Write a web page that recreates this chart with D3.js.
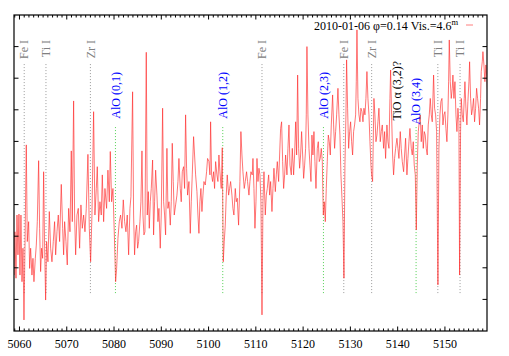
<!DOCTYPE html>
<html><head><meta charset="utf-8">
<script src="https://cdn.jsdelivr.net/npm/d3@7"></script>
<style>body{margin:0;background:#fff}svg{display:block}</style>
</head><body>
<svg id="c" width="509" height="356"></svg>
<script>
// ---- data ----
const wavelength = [
5058.41,5058.62,5058.83,5059.04,5059.26,5059.47,5059.68,5059.89,5060.10,5060.31,5060.53,5060.74,5060.95,5061.16,5061.44,5061.65,5061.94,5062.15,5062.36,5062.64,5062.85,5063.06,5063.35,5063.56,5063.77,5064.05,5064.26,5064.47,5064.68,5064.90,5065.11,5065.32,5065.53,5065.74,5066.02,5066.31,5066.59,5066.87,5067.15,5067.43,5067.65,5067.93,5068.21,5068.49,5068.84,5069.13,5069.34,5069.55,5069.83,5070.11,5070.40,5070.68,5070.96,5071.17,5071.45,5071.66,5071.88,5072.16,5072.44,5072.72,5073.00,5073.29,5073.57,5073.85,5074.13,5074.48,5074.77,5075.05,5075.33,5075.68,5075.96,5076.25,5076.46,5076.74,5077.02,5077.30,5077.52,5077.80,5078.08,5078.43,5078.71,5079.00,5079.21,5079.49,5079.77,5080.05,5080.34,5080.55,5080.83,5081.11,5081.39,5081.68,5081.96,5082.24,5082.52,5082.80,5083.09,5083.37,5083.58,5083.93,
5084.14,5084.35,5084.57,5084.78,5084.99,5085.20,5085.48,5085.69,5085.91,5086.12,5086.33,5086.54,5086.82,5087.03,5087.25,5087.46,5087.67,5087.88,5088.16,5088.37,5088.58,5088.80,5089.08,5089.29,5089.50,5089.78,5089.99,5090.28,5090.49,5090.70,5090.91,5091.19,5091.40,5091.62,5091.90,5092.11,5092.32,5092.53,5092.74,5093.03,5093.31,5093.52,5093.73,5094.01,5094.22,5094.44,5094.72,5094.93,5095.14,5095.35,5095.56,5095.85,5096.13,5096.34,5096.55,5096.83,5097.04,5097.26,5097.54,5097.75,5097.96,5098.17,5098.38,5098.60,5098.81,5099.02,5099.30,5099.58,5099.79,5100.08,5100.29,5100.43,5100.64,5100.85,5101.06,5101.27,5101.49,5101.77,5101.98,5102.19,5102.40,5102.68,5102.90,5103.11,5103.32,5103.53,5103.74,5103.95,5104.24,5104.45,5104.66,5104.94,5105.15,5105.36,5105.65,5105.86,5106.07,5106.35,5106.63,5106.84,5107.06,5107.27,5107.55,5107.76,5108.04,5108.25,5108.54,5108.75,5108.96,5109.24,
5109.39,5109.60,5109.81,5110.03,5110.24,5110.45,5110.66,5110.87,5111.08,5111.30,5111.51,5111.72,5112.00,5112.21,5112.42,5112.71,5112.92,5113.13,5113.41,5113.62,5113.83,5114.12,5114.33,5114.54,5114.82,5115.03,5115.24,5115.45,5115.67,5115.88,5116.09,5116.30,5116.58,5116.79,5117.01,5117.22,5117.50,5117.71,5117.99,5118.20,5118.42,5118.63,5118.84,5119.05,5119.26,5119.47,5119.68,5119.90,5120.11,5120.32,5120.53,5120.67,5120.81,5121.02,5121.24,5121.45,5121.66,5121.87,5122.08,5122.29,5122.50,5122.72,5123.00,5123.21,5123.42,5123.63,5123.84,5124.06,5124.27,5124.48,5124.69,5124.90,5125.11,5125.33,5125.54,5125.75,5125.96,5126.24,5126.45,5126.66,5126.88,5127.09,5127.37,5127.58,5127.79,5128.00,5128.22,5128.43,5128.64,5128.85,5129.06,5129.20,5129.41,5129.63,5129.84,5130.05,5130.26,5130.47,5130.68,5130.89,5131.11,5131.25,5131.39,5131.60,5131.81,5132.02,5132.23,5132.45,5132.66,5132.87,5133.08,5133.29,5133.50,5133.71,5133.93,5134.14,5134.35,5134.49,5134.70,
5134.98,5135.19,5135.41,5135.62,5135.83,5136.04,5136.32,5136.53,5136.75,5137.03,5137.24,5137.45,5137.73,5137.94,5138.16,5138.37,5138.51,5138.72,5138.93,5139.14,5139.35,5139.57,5139.85,5140.06,5140.27,5140.55,5140.76,5140.98,5141.26,5141.47,5141.68,5141.96,5142.17,5142.39,5142.60,5142.88,5143.09,5143.30,5143.51,5143.73,5143.94,5144.15,5144.36,5144.57,5144.78,5144.99,5145.21,5145.42,5145.63,5145.84,5146.05,5146.26,5146.47,5146.69,5146.90,5147.11,5147.32,5147.60,5147.81,5148.03,5148.24,5148.52,5148.73,5148.94,5149.15,5149.37,5149.58,5149.79,5150.00,5150.21,5150.42,5150.63,5150.78,5150.92,5151.13,5151.34,5151.55,5151.69,5151.90,5152.12,5152.33,5152.54,5152.75,5152.96,5153.10,5153.31,5153.45,5153.67,5153.88,5154.09,5154.23,5154.44,5154.65,5154.86,5155.08,5155.22,5155.43,5155.64,5155.85,5156.06,5156.27,5156.49,5156.70,5156.91,5157.12,5157.33,5157.54,5157.68,5157.90,5158.04,5158.25,5158.46,5158.67,5158.88,5159.09
];
const flux = [
3.67,2.62,1.77,3.14,1.67,3.67,2.41,3.70,1.77,3.67,1.56,2.62,0.35,2.62,5.89,2.83,3.46,1.98,2.62,1.77,2.30,1.56,2.30,2.72,3.46,5.39,3.25,1.88,2.62,2.30,5.04,2.62,0.98,2.83,2.19,3.78,2.62,2.19,2.83,3.46,2.41,3.14,3.67,2.83,4.64,3.25,2.41,3.46,2.83,2.09,3.88,3.14,5.70,3.46,7.28,3.67,2.41,3.67,3.88,2.62,3.99,3.25,3.67,3.14,3.88,5.59,3.25,2.19,3.67,6.94,3.67,4.51,5.20,3.46,4.09,3.67,4.94,3.46,4.51,3.88,5.09,4.09,5.68,4.09,4.51,3.14,1.56,1.98,2.93,3.46,3.67,3.25,4.15,3.46,3.14,3.67,2.41,3.88,4.25,7.57,
3.67,2.41,3.14,3.35,2.62,2.83,3.46,4.09,5.70,3.67,3.04,3.14,8.82,3.67,4.41,3.25,4.09,4.51,5.41,3.04,4.09,5.09,4.30,3.46,3.88,2.62,3.67,7.05,4.09,3.67,3.04,5.78,3.88,4.09,3.35,4.09,5.94,4.73,3.67,3.99,4.30,4.73,5.46,4.51,4.09,5.04,5.20,4.51,6.84,5.15,4.30,4.73,3.09,4.09,4.94,6.15,5.57,4.94,4.41,3.67,3.09,4.09,4.51,3.78,4.30,4.73,4.62,5.04,5.46,5.36,4.94,6.62,4.94,4.73,5.04,4.51,5.36,4.94,4.73,5.57,5.04,4.51,5.80,2.19,2.83,3.35,4.30,4.94,4.30,4.51,4.73,4.30,3.88,3.67,4.51,4.09,4.20,3.35,4.73,6.31,5.57,5.04,4.51,4.73,5.04,4.73,4.30,4.73,5.04,4.94,
5.46,4.51,3.25,4.09,5.46,4.73,5.15,4.94,4.09,0.51,4.09,5.04,3.67,4.30,4.51,4.94,4.30,4.73,3.78,4.51,5.15,4.41,4.94,5.36,4.73,5.57,6.41,6.62,5.36,4.51,4.94,5.57,4.94,5.78,6.52,5.25,4.94,5.78,4.94,5.57,6.62,5.57,8.10,5.78,5.15,5.57,6.31,5.57,4.83,5.25,5.78,6.84,9.00,6.84,5.78,5.25,4.73,6.20,5.57,6.31,5.36,4.51,5.78,5.99,5.36,5.46,5.78,5.36,3.67,4.09,3.46,4.51,5.36,6.20,5.99,5.57,6.52,7.47,6.52,5.78,6.31,6.84,7.68,6.84,6.20,4.94,4.20,3.46,1.67,5.25,6.84,8.58,7.05,5.78,6.31,6.62,5.99,5.57,6.31,6.52,6.84,7.89,9.53,7.36,6.84,6.62,7.05,6.94,6.62,7.05,6.84,7.36,8.21,7.36,6.84,5.99,5.25,4.94,4.73,
7.36,6.84,5.99,6.20,6.62,7.05,5.99,6.31,6.52,5.78,6.31,5.46,6.52,5.99,5.78,7.36,8.26,6.84,5.57,4.94,5.46,5.78,6.10,5.78,5.46,6.31,5.78,5.36,5.04,5.57,6.10,4.94,5.46,5.99,6.41,5.78,5.57,5.99,5.25,4.94,3.20,5.25,6.31,6.62,6.84,5.99,6.52,5.78,6.31,6.20,5.78,5.57,6.52,6.84,7.36,6.84,6.62,8.10,7.05,6.84,6.31,1.46,5.78,6.84,7.26,7.36,6.52,6.84,6.94,6.41,5.99,6.84,7.89,9.21,7.89,7.36,7.68,8.10,7.36,7.89,6.84,6.31,7.05,6.62,1.77,6.31,7.36,6.84,6.62,7.36,7.89,7.05,6.52,7.26,7.89,8.52,7.36,6.84,7.05,7.36,6.62,7.05,7.68,7.36,7.05,6.52,7.36,8.21,8.52,8.84,8.42,7.89,8.42,8.00,7.36
];
const xTicks = [5060,5070,5080,5090,5100,5110,5120,5130,5140,5150];
const lineNames = ["Fe I","Ti I","Zr I","AlO (0,1)","AlO (1,2)","Fe I","AlO (2,3)","Fe I","Zr I","TiO \u03b1 (3,2)?","AlO (3,4)","Ti I","Ti I"];
const lineWavelengths = [5061.0,5065.6,5075.0,5080.3,5103.0,5111.3,5124.3,5128.6,5134.5,5139.8,5143.9,5148.5,5153.2];
const lineKinds = ["atom","atom","atom","AlO","AlO","atom","AlO","atom","atom","TiO","AlO","atom","atom"];
const legendLabel = "2010-01-06 \u03c6=0.14 Vis.=4.6";
const legendSup = "m";

// ---- layout ----
const L = 14, R = 487, T = 15, B = 331;
const x = d3.scaleLinear().domain([5058.84, 5158.9]).range([L, R]);
const y = d3.scaleLinear().domain([0, 10]).range([B, T]);
const svg = d3.select("#c");
const font = "'Liberation Serif','Times New Roman',serif";

svg.append("defs").append("clipPath").attr("id","clip")
  .append("rect").attr("x",L).attr("y",T).attr("width",R-L).attr("height",B-T);

// identification lines
const styles = {
  atom: {line:"#9a9a9a", text:"#808080", y0:1.2, y1:8.48, top:40},
  AlO:  {line:"#55d055", text:"#0000ff", y0:1.2, y1:6.47, top:72},
  TiO:  {line:null, text:"#000000", top:61}
};
const labelTop = d => (d.kind === "AlO" && d.w > 5140) ? 78 : styles[d.kind].top;
const ids = lineNames.map((n,i)=>({name:n, w:lineWavelengths[i], kind:lineKinds[i]}));
svg.append("g").selectAll("line").data(ids.filter(d=>styles[d.kind].line)).join("line")
  .attr("x1",d=>x(d.w)).attr("x2",d=>x(d.w))
  .attr("y1",d=>y(styles[d.kind].y0)).attr("y2",d=>y(styles[d.kind].y1))
  .attr("stroke",d=>styles[d.kind].line).attr("stroke-width",1)
  .attr("stroke-dasharray","1,2");

// spectrum
const pts = wavelength.map((w,i)=>[w, flux[i]]);
svg.append("path").datum(pts).attr("clip-path","url(#clip)")
  .attr("fill","none").attr("stroke","#ff2a2a").attr("stroke-width",0.9)
  .attr("stroke-opacity",0.72).attr("stroke-linejoin","round")
  .attr("d", d3.line().x(d=>x(d[0])).y(d=>y(d[1])));

// labels (rotated)
svg.append("g").selectAll("text").data(ids).join("text")
  .attr("transform",d=>`translate(${x(d.w)},${labelTop(d)}) rotate(-90)`)
  .attr("text-anchor","end").attr("dy","0.35em")
  .attr("font-family",font).attr("font-size",12)
  .attr("fill",d=>styles[d.kind].text)
  .text(d=>d.name);

// frame
svg.append("rect").attr("x",L).attr("y",T).attr("width",R-L).attr("height",B-T)
  .attr("fill","none").attr("stroke","#000").attr("stroke-width",1.2);

// ticks
const minor = d3.range(5059, 5159, 1);
const tg = svg.append("g").attr("stroke","#000").attr("stroke-width",1);
minor.forEach(v=>{
  const len = xTicks.includes(v) ? 4.5 : 2.5;
  tg.append("line").attr("x1",x(v)).attr("x2",x(v)).attr("y1",B).attr("y2",B-len);
  tg.append("line").attr("x1",x(v)).attr("x2",x(v)).attr("y1",T).attr("y2",T+len);
});
d3.range(1,10).forEach(v=>{
  tg.append("line").attr("x1",L).attr("x2",L+4.5).attr("y1",y(v)).attr("y2",y(v));
  tg.append("line").attr("x1",R).attr("x2",R-4.5).attr("y1",y(v)).attr("y2",y(v));
});
svg.append("g").selectAll("text").data(xTicks).join("text")
  .attr("x",d=>x(d)).attr("y",348).attr("text-anchor","middle")
  .attr("font-family",font).attr("font-size",12).attr("fill","#000")
  .text(d=>d);

// legend
const lt = svg.append("text").attr("x",314).attr("y",29.5)
  .attr("font-family",font).attr("font-size",12).attr("fill","#000");
lt.append("tspan").text(legendLabel);
lt.append("tspan").attr("font-size",8.5).attr("dy",-5).text(legendSup);
svg.append("line").attr("x1",466).attr("x2",473).attr("y1",25).attr("y2",25)
  .attr("stroke","#ff2a2a").attr("stroke-opacity",0.6).attr("stroke-width",1);
</script>
</body></html>
